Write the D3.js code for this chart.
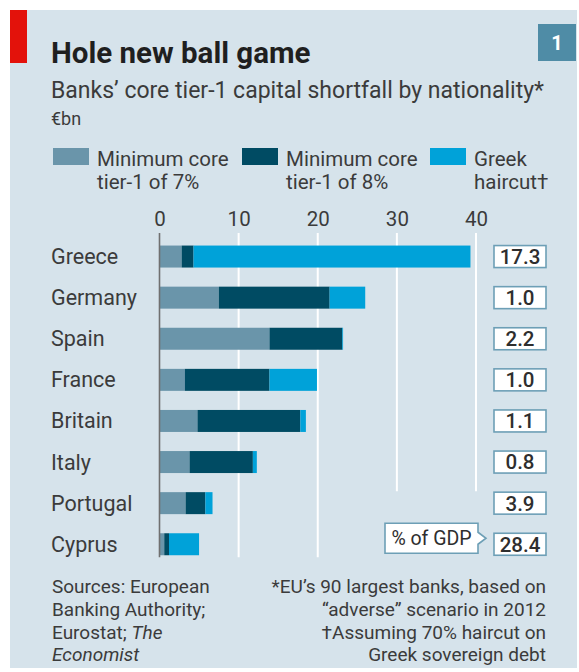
<!DOCTYPE html>
<html>
<head>
<meta charset="utf-8">
<script src="https://cdn.jsdelivr.net/npm/d3@7"></script>
<style>
    html, body { margin: 0; padding: 0; background: #fff; }
    text { font-family: Roboto, "Noto Sans", sans-serif; }
</style>
</head>
<body>
<div id="chart"></div>
<script>
// data, €bn
const countries = ['Greece', 'Germany', 'Spain', 'France', 'Britain', 'Italy', 'Portugal', 'Cyprus'];
const tier7 = [2.8, 7.5, 13.9, 3.2, 4.8, 3.8, 3.3, 0.6];
const tier8 = [1.5, 14.0, 9.2, 10.7, 13.0, 8.0, 2.5, 0.6];
const haircut = [35.0, 4.5, 0.1, 6.0, 0.7, 0.5, 0.9, 3.8];
const gdpShare = [17.3, 1.0, 2.2, 1.0, 1.1, 0.8, 3.9, 28.4];
const xTicks = [0, 10, 20, 30, 40];
const seriesKeys = ['t7', 't8', 'hc'];
const legendLabels = [['Minimum core', 'tier-1 of 7%'], ['Minimum core', 'tier-1 of 8%'], ['Greek', 'haircut†']];

const colors = {t7: '#6a95aa', t8: '#004b63', hc: '#00a2d9'};
const textCol = '#3b3b3b';

const W = 579, H = 672;
const svg = d3.select('#chart').append('svg')
    .attr('width', W)
    .attr('height', H);

// background panel + red tag
svg.append('rect').attr('x', 10).attr('y', 10).attr('width', 567).attr('height', 658).attr('fill', '#d6e3eb');
svg.append('rect').attr('x', 10).attr('y', 10).attr('width', 17).attr('height', 53).attr('fill', '#e3120b');

// chart number badge
svg.append('rect').attr('x', 538).attr('y', 24).attr('width', 38).attr('height', 37).attr('fill', '#4f8ca6');
svg.append('text').attr('x', 557).attr('y', 50).attr('text-anchor', 'middle')
    .attr('fill', '#fff').attr('font-weight', 'bold').attr('font-size', 20).text('1');

// titles
svg.append('text').attr('x', 51).attr('y', 63)
    .attr('fill', '#1f1f1f').attr('font-weight', 'bold').attr('font-size', 29.5)
    .text('Hole new ball game');
svg.append('text').attr('x', 51).attr('y', 98)
    .attr('fill', textCol).attr('font-size', 23)
    .text('Banks’ core tier-1 capital shortfall by nationality*');
svg.append('text').attr('x', 51).attr('y', 125)
    .attr('fill', textCol).attr('font-size', 18)
    .text('€bn');

// legend
const legendX = [53, 242, 430];
const legend = svg.selectAll('.legend').data(seriesKeys).enter().append('g')
    .attr('class', 'legend')
    .attr('transform', (d, i) => 'translate(' + legendX[i] + ',148)');
legend.append('rect').attr('width', 36).attr('height', 17).attr('fill', d => colors[d]);
legend.append('text').attr('x', 44).attr('y', 18)
    .attr('fill', textCol).attr('font-size', 20.5)
    .text((d, i) => legendLabels[i][0]);
legend.append('text').attr('x', 44).attr('y', 41)
    .attr('fill', textCol).attr('font-size', 20.5)
    .text((d, i) => legendLabels[i][1]);

// scales
const x = d3.scaleLinear().domain([0, 40]).range([159.5, 476]);
const y = d3.scaleBand().domain(countries).range([236, 564.8])
    .paddingInner(0.465).paddingOuter(0.2325);

// gridlines (the two right-hand ones stop above the GDP callout)
svg.selectAll('.grid').data(xTicks.filter(d => d > 0)).enter().append('line')
    .attr('class', 'grid')
    .attr('x1', d => x(d)).attr('x2', d => x(d))
    .attr('y1', 233)
    .attr('y2', d => d >= 30 ? y('Portugal') - 1 : y('Cyprus') + y.bandwidth() + 2)
    .attr('stroke', '#fff').attr('stroke-width', 2);

// x axis labels on top
const xAxis = svg.append('g')
    .attr('transform', 'translate(0,226)')
    .call(d3.axisTop(x).tickValues(xTicks).tickSize(0).tickPadding(0));
xAxis.select('.domain').remove();
xAxis.selectAll('text')
    .attr('font-family', 'Roboto, sans-serif')
    .attr('font-size', 20.5).attr('fill', textCol);

// stacked bars
const rows = countries.map((c, i) => ({country: c, t7: tier7[i], t8: tier8[i], hc: haircut[i]}));
const stacked = d3.stack().keys(seriesKeys)(rows);

svg.selectAll('.series').data(stacked).enter().append('g')
    .attr('class', 'series')
    .attr('fill', d => colors[d.key])
    .selectAll('rect').data(d => d).enter().append('rect')
    .attr('x', d => x(d[0]))
    .attr('y', d => y(d.data.country))
    .attr('width', d => x(d[1]) - x(d[0]))
    .attr('height', y.bandwidth());

// zero line
svg.append('line')
    .attr('x1', x(0)).attr('x2', x(0))
    .attr('y1', 233).attr('y2', y('Cyprus') + y.bandwidth() + 2)
    .attr('stroke', '#707070').attr('stroke-width', 1.6);

// country labels
const yAxis = svg.append('g')
    .attr('transform', 'translate(51,0)')
    .call(d3.axisRight(y).tickSize(0).tickPadding(0));
yAxis.select('.domain').remove();
yAxis.selectAll('text')
    .attr('font-family', 'Roboto, sans-serif')
    .attr('font-size', 21.5).attr('fill', textCol)
    .attr('dy', '0.35em');

// % of GDP boxes
const boxX = 494, boxW = 52, boxH = 22;
const gdpBox = svg.selectAll('.gdp').data(countries).enter().append('g')
    .attr('class', 'gdp')
    .attr('transform', (d, i) => 'translate(' + boxX + ',' + y(d) + ')');
gdpBox.append('rect').attr('width', boxW).attr('height', boxH)
    .attr('fill', '#fff').attr('stroke', '#6d9fb6').attr('stroke-width', 1.6);
gdpBox.append('text')
    .attr('x', boxW / 2).attr('y', boxH / 2).attr('dy', '0.36em')
    .attr('text-anchor', 'middle').attr('font-size', 20.5).attr('font-weight', 500)
    .attr('fill', '#2e2e2e')
    .text((d, i) => d3.format('.1f')(gdpShare[i]));

// "% of GDP" callout pointing at the last box
const cy = y('Cyprus') + boxH / 2 - 6;
const cl = 385, cr = 478, ct = cy - 15, cb = cy + 15;
svg.append('path')
    .attr('d', 'M' + cl + ',' + ct + 'H' + cr + 'V' + (cy - 6) + 'L' + (cr + 8) + ',' + cy +
        'L' + cr + ',' + (cy + 6) + 'V' + cb + 'H' + cl + 'Z')
    .attr('fill', '#fff').attr('stroke', '#6d9fb6').attr('stroke-width', 1.6);
svg.append('text').attr('x', (cl + cr) / 2).attr('y', cy).attr('dy', '0.36em')
    .attr('text-anchor', 'middle').attr('font-size', 19.5).attr('fill', '#2e2e2e')
    .text('% of GDP');

// footnotes: each line is a list of [text, italic] pieces
const srcLines = [
    [['Sources: European', false]],
    [['Banking Authority;', false]],
    [['Eurostat; ', false], ['The', true]],
    [['Economist', true]]
];
const notes = ['*EU’s 90 largest banks, based on', '“adverse” scenario in 2012', '†Assuming 70% haircut on', 'Greek sovereign debt'];
const lineY = [593, 616, 639, 661];

svg.selectAll('.src').data(srcLines).enter().append('text')
    .attr('class', 'src')
    .attr('x', 52).attr('y', (d, i) => lineY[i])
    .attr('fill', textCol).attr('font-size', 19)
    .selectAll('tspan').data(d => d).enter().append('tspan')
    .attr('font-style', d => d[1] ? 'italic' : 'normal')
    .text(d => d[0]);

svg.selectAll('.note').data(notes).enter().append('text')
    .attr('class', 'note')
    .attr('x', 546).attr('y', (d, i) => lineY[i])
    .attr('text-anchor', 'end')
    .attr('fill', textCol).attr('font-size', 19)
    .text(d => d);
</script>
</body>
</html>
